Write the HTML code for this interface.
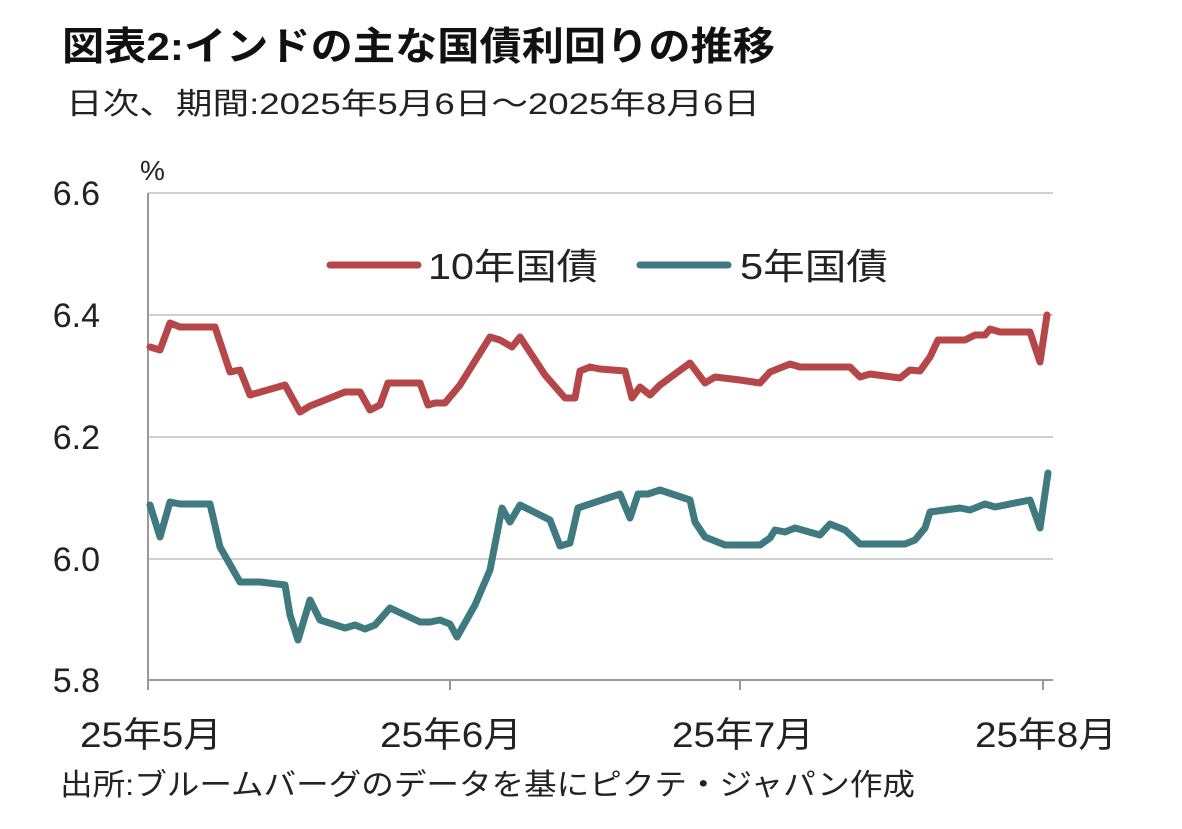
<!DOCTYPE html>
<html><head><meta charset="utf-8"><style>
body{margin:0;background:#fff;}
svg{display:block;font-family:"Liberation Sans","Noto Sans CJK JP",sans-serif;}
</style></head><body>
<svg width="1182" height="829" viewBox="0 0 1182 829">
<text x="62" y="60" font-size="39" font-weight="bold" fill="#111" textLength="713" lengthAdjust="spacingAndGlyphs">図表2:インドの主な国債利回りの推移</text>
<text x="66" y="114" font-size="30" fill="#222" textLength="694" lengthAdjust="spacingAndGlyphs">日次、期間:2025年5月6日～2025年8月6日</text>
<text x="140" y="180" font-size="28" fill="#222">%</text>
<g stroke="#d0d0d0" stroke-width="2">
<line x1="148" y1="193" x2="1053" y2="193"/>
<line x1="148" y1="315" x2="1053" y2="315"/>
<line x1="148" y1="437" x2="1053" y2="437"/>
<line x1="148" y1="559" x2="1053" y2="559"/>
</g>
<g stroke="#999" stroke-width="2">
<line x1="148" y1="193" x2="148" y2="690"/>
<line x1="148" y1="680" x2="1053" y2="680"/>
<line x1="450" y1="680" x2="450" y2="690"/>
<line x1="740" y1="680" x2="740" y2="690"/>
<line x1="1043" y1="680" x2="1043" y2="690"/>
</g>
<g font-size="34" fill="#222" text-anchor="end">
<text x="100" y="205">6.6</text>
<text x="100" y="327">6.4</text>
<text x="100" y="449">6.2</text>
<text x="100" y="571">6.0</text>
<text x="100" y="692">5.8</text>
</g>
<g font-size="35" fill="#222">
<text x="80" y="747" textLength="142" lengthAdjust="spacingAndGlyphs">25年5月</text>
<text x="380" y="747" textLength="142" lengthAdjust="spacingAndGlyphs">25年6月</text>
<text x="672" y="747" textLength="142" lengthAdjust="spacingAndGlyphs">25年7月</text>
<text x="975" y="747" textLength="142" lengthAdjust="spacingAndGlyphs">25年8月</text>
</g>
<text x="60" y="795" font-size="30" fill="#222" textLength="855" lengthAdjust="spacingAndGlyphs">出所:ブルームバーグのデータを基にピクテ・ジャパン作成</text>
<g fill="none" stroke-width="7" stroke-linejoin="round" stroke-linecap="round">
<polyline stroke="#b5474a" points="150,347 160,350 170,323 180,327 215,327 230,372 240,370 250,395 285,385 300,412 310,406 345,392 360,392 370,410 380,405 388,383 420,383 428,405 435,403 445,403 460,385 490,337 500,340 512,347 520,337 545,375 565,398 575,398 580,371 590,367 600,369 625,371 632,398 640,387 650,395 660,385 690,363 705,383 715,377 740,380 760,383 770,372 790,364 800,367 810,367 850,367 860,377 870,374 900,378 910,370 920,371 930,357 938,340 965,340 975,335 985,335 990,329 1000,332 1030,332 1040,362 1047,315"/>
<polyline stroke="#3f7a80" points="150,505 160,537 170,502 180,504 210,504 220,547 240,582 260,582 285,585 290,615 298,640 310,600 320,620 345,628 355,625 365,629 375,625 390,608 420,622 430,622 440,620 450,624 457,637 475,605 490,570 502,508 510,522 520,505 550,520 560,546 570,543 578,508 620,494 630,518 638,494 648,494 660,490 690,500 695,522 705,537 725,545 760,545 770,538 775,530 785,532 795,528 820,535 830,524 845,530 860,544 905,544 915,540 925,528 930,512 945,510 960,508 970,510 985,504 995,507 1030,500 1040,528 1048,473"/>
<line x1="330" y1="265" x2="418" y2="265" stroke="#b5474a"/>
<line x1="640" y1="265" x2="728" y2="265" stroke="#3f7a80"/>
</g>
<g font-size="36" fill="#222">
<text x="428" y="279" textLength="170" lengthAdjust="spacingAndGlyphs">10年国債</text>
<text x="740" y="279" textLength="148" lengthAdjust="spacingAndGlyphs">5年国債</text>
</g>
</svg>
</body></html>
